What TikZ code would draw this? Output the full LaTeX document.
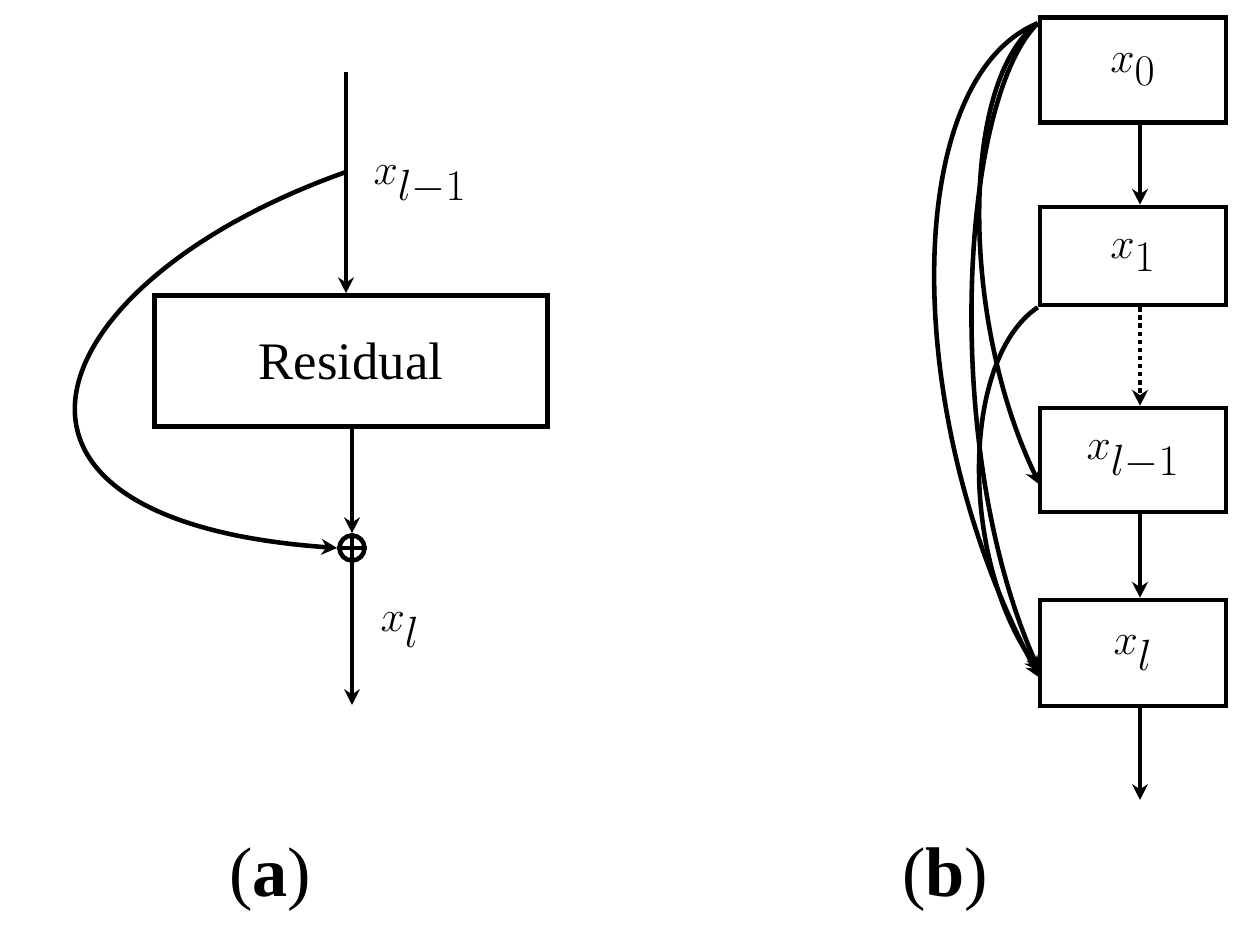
\documentclass[tikz,border=0pt]{standalone}
\usepackage{fontspec}
\setmainfont{Liberation Serif}
\usetikzlibrary{arrows.meta}
\begin{document}
\begin{tikzpicture}[x=0.02cm,y=-0.02cm,line width=2.6pt,
  arr/.style={-{Stealth[length=9pt,width=9pt]}},
  box/.style={draw,minimum width=3.72cm,inner sep=0pt},
  lbl/.style={font=\fontsize{40}{44}\selectfont},
  captxt/.style={font=\fontsize{40}{44}\selectfont}]
\useasboundingbox (0,0) rectangle (1259,946);
% (a)
\coordinate (top) at (346,72);
\coordinate (split) at (346,172);
\node[box,minimum width=7.86cm,minimum height=2.62cm,font=\fontsize{30}{34}\selectfont] (res) at (351,361) {Residual};
\node[draw,circle,minimum size=0.5cm,inner sep=0pt,line width=2.6pt] (add) at (352,548) {};
\draw (add.north) -- (add.south) (add.west) -- (add.east);
\coordinate (outa) at (352,705);
\draw[arr] (top) -- (res.north -| top);
\draw[arr] (res.south -| add) -- (add.north);
\draw[arr] (add.south) -- (outa);
\draw[arr] (split) .. controls (40,280) and (-60,520) .. (add.west);
\node[lbl] at (420,185) {$x_{l-1}$};
\node[lbl] at (400,630) {$x_l$};
\node[captxt] at (270,880) {(\textbf{a})};
% (b)
\node[box,minimum height=2.1cm,lbl] (b0) at (1133,70) {$x_0$};
\node[box,minimum height=1.96cm,lbl] (b1) at (1133,256) {$x_1$};
\node[box,minimum height=2.08cm,lbl] (b2) at (1133,460) {$x_{l-1}$};
\node[box,minimum height=2.12cm,lbl] (b3) at (1133,653) {$x_l$};
\coordinate (outb) at (1140,800);
\draw[arr] (b0.south -| outb) -- (b1.north -| outb);
\draw[arr,dotted] (b1.south -| outb) -- (b2.north -| outb);
\draw[arr] (b2.south -| outb) -- (b3.north -| outb);
\draw[arr] (b3.south -| outb) -- (outb);
\draw[arr] (b0.north west) ++(0,8) .. controls (900,80) and (900,420) .. (1040,678);
\draw[arr] (b0.north west) ++(0,8) .. controls (960,80) and (960,320) .. (1040,485);
\draw[arr] (b0.north west) ++(0,8) .. controls (960,100) and (940,450) .. (1040,672);
\draw[arr] (b1.south west) ++(0,0) .. controls (960,360) and (960,560) .. (1040,672);
\node[captxt] at (945,880) {(\textbf{b})};
\end{tikzpicture}
\end{document}
